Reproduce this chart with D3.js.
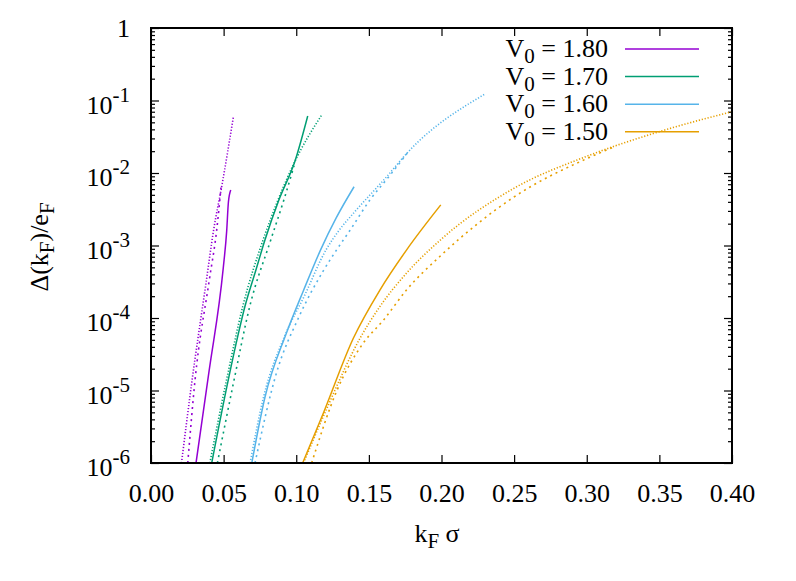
<!DOCTYPE html>
<html>
<head>
<meta charset="utf-8">
<script src="https://cdn.jsdelivr.net/npm/d3@7"></script>
<style>
  body { margin: 0; background: #fff; }
  text { font-family: "Liberation Serif", "DejaVu Serif", serif; fill: #000; }
</style>
</head>
<body>
<svg id="chart" width="796" height="581"></svg>
<script>
// values, [k_F sigma, Delta/e_F]
let v180Solid = [[0.031,1e-6],[0.040,1.86e-5],[0.0497,4.79e-4],[0.0521,1.58e-3],[0.0533,3.98e-3],[0.0549,5.83e-3]];
let v180Dot   = [[0.021,1e-6],[0.028,1.26e-5],[0.038,3.16e-4],[0.043,1.58e-3],[0.049,7.08e-3],[0.0567,5.89e-2]];
let v180Dash  = [[0.0253,1e-6],[0.0303,1.38e-5],[0.0401,3.31e-4],[0.0452,1.62e-3],[0.0482,6.31e-3]];

let v170Solid = [[0.0418,1e-6],[0.0532,1.40e-5],[0.0601,6.03e-5],[0.0647,1.45e-4],[0.0716,4.17e-4],[0.0785,1.20e-3],[0.0881,4.27e-3],[0.0991,1.45e-2],[0.1079,6.11e-2]];
let v170Dot   = [[0.0405,1e-6],[0.052,1.40e-5],[0.0632,1.45e-4],[0.0772,1.20e-3],[0.0875,4.27e-3],[0.0991,1.45e-2],[0.1175,6.31e-2]];
let v170Dash  = [[0.0457,1e-6],[0.0572,1.40e-5],[0.068,1.45e-4],[0.0825,1.20e-3],[0.0915,4.27e-3],[0.0985,1.26e-2]];

let v160Solid = [[0.0694,1e-6],[0.0785,8.13e-6],[0.093,6.03e-5],[0.105,2.40e-4],[0.117,8.91e-4],[0.1275,2.40e-3],[0.1398,6.46e-3]];
let v160Dot   = [[0.0682,1e-6],[0.0775,8.13e-6],[0.092,5.62e-5],[0.1055,2.0e-4],[0.1205,8.71e-4],[0.1295,1.62e-3],[0.1405,2.95e-3],[0.1623,8.91e-3],[0.1772,1.97e-2],[0.23,0.123]];
let v160Dash  = [[0.0716,1e-6],[0.0865,1.78e-5],[0.1015,1.0e-4],[0.1186,4.47e-4],[0.1278,8.71e-4],[0.137,1.62e-3],[0.1508,4.27e-3],[0.165,9.55e-3],[0.1772,1.97e-2]];

let v150Solid = [[0.1044,1e-6],[0.1187,4.9e-6],[0.1393,5.25e-5],[0.1577,2.45e-4],[0.176,8.71e-4],[0.1995,3.63e-3]];
let v150Dot   = [[0.105,1e-6],[0.121,5.62e-6],[0.1439,5.25e-5],[0.1577,1.45e-4],[0.176,4.17e-4],[0.20,1.23e-3],[0.25,6.17e-3],[0.30,1.70e-2],[0.35,3.72e-2],[0.40,7.02e-2]];
let v150Dash  = [[0.1106,1e-6],[0.128,1e-5],[0.146,4.47e-5],[0.16,9.33e-5],[0.176,2.45e-4],[0.20,7.41e-4],[0.25,4.68e-3],[0.30,1.58e-2],[0.32,2.34e-2]];

let legendLabels = ["1.80", "1.70", "1.60", "1.50"];
let colors = ["#9400d3", "#009e73", "#56b4e9", "#e69f00"];
let xTicks = [0, 0.05, 0.10, 0.15, 0.20, 0.25, 0.30, 0.35, 0.40];
let yTicks = [1e-6, 1e-5, 1e-4, 1e-3, 1e-2, 1e-1, 1];

let series = [
  [v180Solid, v180Dot, v180Dash],
  [v170Solid, v170Dot, v170Dash],
  [v160Solid, v160Dot, v160Dash],
  [v150Solid, v150Dot, v150Dash]
];
let dashes = [null, "1.2,1.8", "2,4"];

let svg = d3.select("#chart");
let plotLeft = 151, plotRight = 732, plotTop = 28, plotBottom = 463;
let fs = 26, fsSub = 21;

let x = d3.scaleLinear().domain([0, 0.4]).range([plotLeft, plotRight]);
let y = d3.scaleLog().domain([1e-6, 1]).range([plotBottom, plotTop]);

svg.append("clipPath").attr("id", "plotclip")
  .append("rect")
  .attr("x", plotLeft).attr("y", plotTop)
  .attr("width", plotRight - plotLeft).attr("height", plotBottom - plotTop);

// minor ticks 2..9 per decade
let yMinor = [];
for (let e = -6; e < 0; e++) {
  for (let m = 2; m <= 9; m++) yMinor.push(m * Math.pow(10, e));
}

function styleTicks(g) {
  g.select(".domain").remove();
  g.selectAll(".tick line").attr("stroke", "#000").attr("stroke-width", 1.2);
}

svg.append("g").attr("transform", "translate(0," + plotBottom + ")")
  .call(d3.axisBottom(x).tickValues(xTicks).tickSize(-8).tickPadding(21).tickFormat(d3.format(".2f")))
  .call(styleTicks)
  .selectAll("text").attr("font-size", fs).attr("font-family", "Liberation Serif");

svg.append("g").attr("transform", "translate(0," + plotTop + ")")
  .call(d3.axisTop(x).tickValues(xTicks).tickSize(-8).tickFormat(""))
  .call(styleTicks);

svg.append("g").attr("transform", "translate(" + plotLeft + ",0)")
  .call(d3.axisLeft(y).tickValues(yTicks).tickSize(-8).tickFormat(""))
  .call(styleTicks);
svg.append("g").attr("transform", "translate(" + plotLeft + ",0)")
  .call(d3.axisLeft(y).tickValues(yMinor).tickSize(-4).tickFormat(""))
  .call(styleTicks);
svg.append("g").attr("transform", "translate(" + plotRight + ",0)")
  .call(d3.axisRight(y).tickValues(yTicks).tickSize(-8).tickFormat(""))
  .call(styleTicks);
svg.append("g").attr("transform", "translate(" + plotRight + ",0)")
  .call(d3.axisRight(y).tickValues(yMinor).tickSize(-4).tickFormat(""))
  .call(styleTicks);

// y tick labels with superscript exponents
yTicks.forEach(function(v) {
  let e = Math.round(Math.log10(v));
  let t = svg.append("text")
    .attr("x", 130)
    .attr("text-anchor", "end")
    .attr("font-size", fs);
  if (e == 0) {
    t.attr("y", y(v) + 9).text("1");
  } else {
    t.attr("y", y(v) + 13);
    t.append("tspan").text("10");
    t.append("tspan").attr("dy", -12).attr("font-size", fsSub).text(String(e));
  }
});

// curves
let line = d3.line()
  .x(function(d) { return x(d[0]); })
  .y(function(d) { return y(d[1]); })
  .curve(d3.curveMonotoneX);

let plot = svg.append("g").attr("clip-path", "url(#plotclip)");
series.forEach(function(group, i) {
  group.forEach(function(data, j) {
    plot.append("path")
      .datum(data)
      .attr("d", line)
      .attr("fill", "none")
      .attr("stroke", colors[i])
      .attr("stroke-width", j == 0 ? 1.5 : 1.6)
      .attr("stroke-dasharray", dashes[j]);
  });
});

// frame
svg.append("rect")
  .attr("x", plotLeft).attr("y", plotTop)
  .attr("width", plotRight - plotLeft).attr("height", plotBottom - plotTop)
  .attr("fill", "none").attr("stroke", "#000").attr("stroke-width", 2);

// legend
legendLabels.forEach(function(lab, i) {
  let ly = 49 + i * 27.6;
  let t = svg.append("text")
    .attr("x", 608).attr("y", ly + 8)
    .attr("text-anchor", "end")
    .attr("font-size", fs);
  t.append("tspan").text("V");
  t.append("tspan").attr("dy", 6).attr("font-size", fsSub).text("0");
  t.append("tspan").attr("dy", -6).text(" = " + lab);
  svg.append("line")
    .attr("x1", 625).attr("x2", 699)
    .attr("y1", ly).attr("y2", ly)
    .attr("stroke", colors[i]).attr("stroke-width", 1.5);
});

// axis titles
let xl = svg.append("text")
  .attr("x", 437).attr("y", 542)
  .attr("text-anchor", "middle")
  .attr("font-size", fs);
xl.append("tspan").text("k");
xl.append("tspan").attr("dy", 6).attr("font-size", fsSub).text("F");
xl.append("tspan").attr("dy", -6).text(" σ");

let yl = svg.append("text")
  .attr("transform", "translate(48,247) rotate(-90)")
  .attr("text-anchor", "middle")
  .attr("font-size", fs);
yl.append("tspan").text("Δ(k");
yl.append("tspan").attr("dy", 6).attr("font-size", fsSub).text("F");
yl.append("tspan").attr("dy", -6).text(")/e");
yl.append("tspan").attr("dy", 6).attr("font-size", fsSub).text("F");
</script>
</body>
</html>
